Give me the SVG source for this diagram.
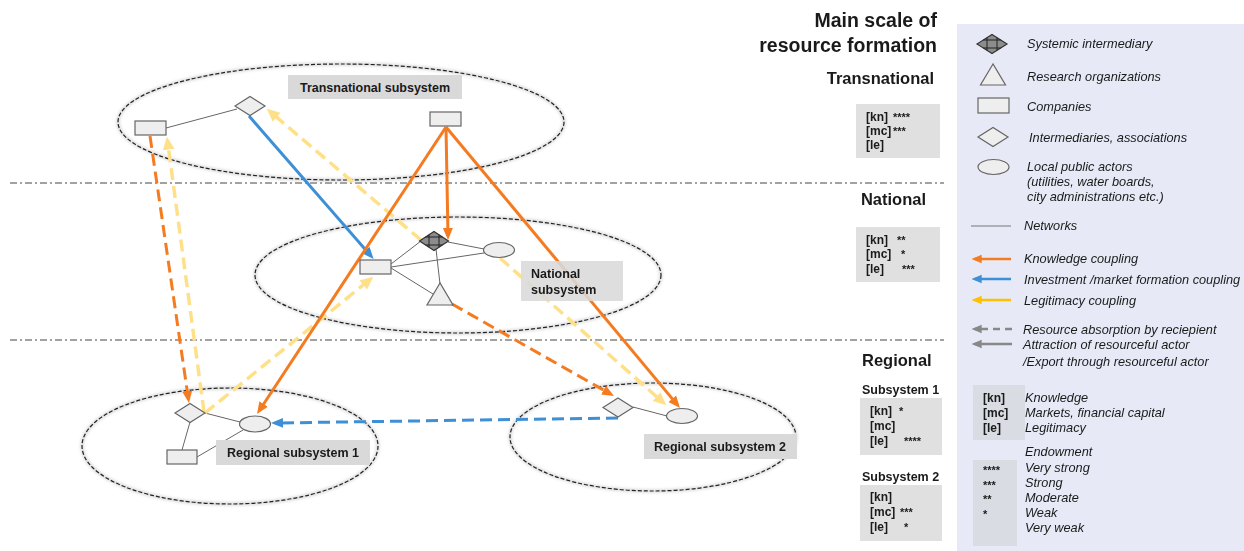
<svg xmlns="http://www.w3.org/2000/svg" width="1244" height="551" viewBox="0 0 1244 551">
  <defs>
    <style>
      text { font-family: "Liberation Sans", Arial, sans-serif; fill: #1a1a1a; }
      .scale { font-weight: bold; }
      .lbl { font-weight: bold; font-size: 12.5px; }
      .bx { font-weight: bold; font-size: 12px; }
      .star { font-weight: bold; font-size: 11px; }
      .it { font-style: italic; font-size: 12.75px; }
      .sub { fill: none; stroke: #222; stroke-width: 1.2; stroke-dasharray: 4 2; }
      .subshadow { fill: none; stroke: #bbb; stroke-width: 3; opacity: 0.6; }
      .level { stroke: #444; stroke-width: 1; stroke-dasharray: 7 3 2 3; fill: none; }
      .actor { fill: #eeeeee; stroke: #666; stroke-width: 1.2; }
      .net { stroke: #666; stroke-width: 1; fill: none; }
      .tag { fill: #d9d9d9; }
      .know { stroke: #f47b20; stroke-width: 3; fill: none; }
      .inv { stroke: #3d8fd6; stroke-width: 3; fill: none; }
      .leg { stroke: #ffe08a; stroke-width: 3.5; fill: none; }
      .dash { stroke-dasharray: 12 6; }
    </style>
    <filter id="soft" x="-10%" y="-20%" width="120%" height="140%">
      <feGaussianBlur stdDeviation="1.5"/>
    </filter>
    <marker id="ahO" viewBox="0 0 12 12" markerUnits="userSpaceOnUse" markerWidth="12" markerHeight="12" refX="8" refY="6" orient="auto">
      <path d="M0,1 L12,6 L0,11 z" fill="#f47b20"/>
    </marker>
    <marker id="ahB" viewBox="0 0 12 12" markerUnits="userSpaceOnUse" markerWidth="12" markerHeight="12" refX="8" refY="6" orient="auto">
      <path d="M0,1 L12,6 L0,11 z" fill="#3d8fd6"/>
    </marker>
    <marker id="ahY" viewBox="0 0 12 12" markerUnits="userSpaceOnUse" markerWidth="13" markerHeight="13" refX="8" refY="6" orient="auto">
      <path d="M0,0.5 L12,6 L0,11.5 z" fill="#ffe08a"/>
    </marker>
    <marker id="ahG" viewBox="0 0 12 12" markerUnits="userSpaceOnUse" markerWidth="10" markerHeight="10" refX="8" refY="6" orient="auto">
      <path d="M0,1 L12,6 L0,11 z" fill="#888"/>
    </marker>
    <marker id="ahLO" viewBox="0 0 12 12" markerUnits="userSpaceOnUse" markerWidth="10" markerHeight="10" refX="8" refY="6" orient="auto">
      <path d="M0,1 L12,6 L0,11 z" fill="#f47b20"/>
    </marker>
    <marker id="ahLB" viewBox="0 0 12 12" markerUnits="userSpaceOnUse" markerWidth="10" markerHeight="10" refX="8" refY="6" orient="auto">
      <path d="M0,1 L12,6 L0,11 z" fill="#3d8fd6"/>
    </marker>
    <marker id="ahLY" viewBox="0 0 12 12" markerUnits="userSpaceOnUse" markerWidth="10" markerHeight="10" refX="8" refY="6" orient="auto">
      <path d="M0,1 L12,6 L0,11 z" fill="#ffc000"/>
    </marker>
  </defs>

  <rect width="1244" height="551" fill="#ffffff"/>

  <!-- level separators -->
  <g id="levels">
    <line class="level" x1="10" y1="183" x2="944" y2="183"/>
    <line class="level" x1="10" y1="340" x2="944" y2="340"/>
  </g>

  <!-- subsystem boundaries -->
  <g id="subsystems">
    <g filter="url(#soft)">
      <ellipse class="subshadow" cx="341" cy="122" rx="223" ry="58"/>
      <ellipse class="subshadow" cx="458" cy="275" rx="203" ry="58"/>
      <ellipse class="subshadow" cx="230" cy="446" rx="148" ry="58"/>
      <ellipse class="subshadow" cx="653" cy="437" rx="143" ry="54"/>
    </g>
    <ellipse class="sub" cx="341" cy="122" rx="223" ry="58"/>
    <ellipse class="sub" cx="458" cy="275" rx="203" ry="58"/>
    <ellipse class="sub" cx="230" cy="446" rx="148" ry="58"/>
    <ellipse class="sub" cx="653" cy="437" rx="143" ry="54"/>
  </g>

  <!-- network ties inside subsystems -->
  <g id="networks">
    <line class="net" x1="166" y1="128" x2="237" y2="109"/>
    <line class="net" x1="391" y1="264" x2="421" y2="241"/>
    <line class="net" x1="391" y1="267" x2="484" y2="253"/>
    <line class="net" x1="391" y1="268" x2="433" y2="294"/>
    <line class="net" x1="436" y1="249" x2="440" y2="284"/>
    <line class="net" x1="448" y1="242" x2="484" y2="249"/>
    <line class="net" x1="205" y1="413" x2="240" y2="422"/>
    <line class="net" x1="190" y1="422" x2="182" y2="450"/>
    <line class="net" x1="197" y1="457" x2="243" y2="430"/>
    <line class="net" x1="633" y1="407" x2="667" y2="416"/>
  </g>

  <!-- resource couplings -->
  <g id="connectors">
    <line class="leg dash" x1="421" y1="240" x2="270" y2="111.6" marker-end="url(#ahY)"/>
    <line class="leg dash" x1="500" y1="258" x2="663" y2="402.4" marker-end="url(#ahY)"/>
    <line class="leg dash" x1="204" y1="412" x2="167.5" y2="141" marker-end="url(#ahY)"/>
    <line class="leg dash" x1="205" y1="413" x2="370" y2="279.5" marker-end="url(#ahY)"/>
    <line class="know dash" x1="150" y1="136" x2="188.4" y2="399" marker-end="url(#ahO)"/>
    <line class="know dash" x1="452" y1="304" x2="610.5" y2="394" marker-end="url(#ahO)"/>
    <line class="inv" x1="249" y1="116" x2="371" y2="256" marker-end="url(#ahB)"/>
    <line class="inv dash" x1="618" y1="418" x2="275" y2="423" marker-end="url(#ahB)"/>
    <line class="know" x1="446" y1="127" x2="448" y2="236" marker-end="url(#ahO)"/>
    <line class="know" x1="446" y1="127" x2="259.2" y2="410.7" marker-end="url(#ahO)"/>
    <line class="know" x1="446" y1="127" x2="677.4" y2="404.9" marker-end="url(#ahO)"/>
  </g>

  <!-- transnational actors -->
  <g id="trans-company-1"><rect class="actor" x="135" y="121" width="31" height="14"/></g>
  <g id="trans-intermediary"><polygon class="actor" points="235,106 250,96.5 265,106 250,115.5"/></g>
  <g id="trans-company-2"><rect class="actor" x="430" y="112" width="31" height="14"/></g>

  <!-- national actors -->
  <g id="nat-systemic">
    <polygon points="419.5,241 434,231.5 448.5,241 434,250.5" fill="#8c8c8c" stroke="#333" stroke-width="1.2"/>
    <g stroke="#222" stroke-width="1">
      <line x1="429" y1="234.8" x2="429" y2="247.2"/>
      <line x1="439" y1="234.8" x2="439" y2="247.2"/>
      <line x1="425.6" y1="237" x2="442.4" y2="237"/>
      <line x1="425.6" y1="245" x2="442.4" y2="245"/>
    </g>
  </g>
  <g id="nat-public"><ellipse class="actor" cx="499" cy="250" rx="15.5" ry="7.5"/></g>
  <g id="nat-company"><rect class="actor" x="360" y="260" width="31" height="14"/></g>
  <g id="nat-research"><polygon class="actor" points="440,283 427,305 453,305"/></g>

  <!-- regional subsystem 1 actors -->
  <g id="reg1-intermediary"><polygon class="actor" points="175,413 190,403.5 205,413 190,422.5"/></g>
  <g id="reg1-public"><ellipse class="actor" cx="255" cy="424" rx="15.5" ry="8"/></g>
  <g id="reg1-company"><rect class="actor" x="167" y="450" width="30" height="14"/></g>

  <!-- regional subsystem 2 actors -->
  <g id="reg2-intermediary"><polygon class="actor" points="603,407.5 618,398 633,407.5 618,417"/></g>
  <g id="reg2-public"><ellipse class="actor" cx="682" cy="416" rx="15.5" ry="7.5"/></g>

  <!-- subsystem names -->
  <g id="label-trans">
    <rect class="tag" x="288" y="75" width="174" height="24"/>
    <text class="lbl" x="375" y="92" text-anchor="middle">Transnational subsystem</text>
  </g>
  <g id="label-nat">
    <rect class="tag" x="521" y="261" width="102" height="40" opacity="0.88"/>
    <text class="lbl" x="531" y="278">National</text>
    <text class="lbl" x="531" y="294">subsystem</text>
  </g>
  <g id="label-reg1">
    <rect class="tag" x="216" y="440" width="154" height="25"/>
    <text class="lbl" x="227" y="457">Regional subsystem 1</text>
  </g>
  <g id="label-reg2">
    <rect class="tag" x="644" y="434" width="153" height="25"/>
    <text class="lbl" x="654" y="451">Regional subsystem 2</text>
  </g>

  <!-- main scale column -->
  <g id="scale-column">
    <text class="scale" x="937" y="27" text-anchor="end" font-size="19.5">Main scale of</text>
    <text class="scale" x="937" y="52" text-anchor="end" font-size="19.5">resource formation</text>
    <text class="scale" x="934" y="84" text-anchor="end" font-size="16.5">Transnational</text>
    <text class="scale" x="926" y="205" text-anchor="end" font-size="16.5">National</text>
    <text class="scale" x="862" y="366" font-size="16.5">Regional</text>
    <text class="scale" x="862" y="394" font-size="12.5">Subsystem 1</text>
    <text class="scale" x="862" y="481" font-size="12.5">Subsystem 2</text>
  </g>

  <g id="endow-trans">
    <rect fill="#e0e0e0" x="856" y="104" width="84" height="54"/>
    <text class="bx" x="866" y="121">[kn]</text><text class="star" x="893" y="121">****</text>
    <text class="bx" x="866" y="135">[mc]</text><text class="star" x="893" y="135">***</text>
    <text class="bx" x="866" y="149">[le]</text>
  </g>
  <g id="endow-nat">
    <rect fill="#e0e0e0" x="856" y="227" width="84" height="55"/>
    <text class="bx" x="866" y="244">[kn]</text><text class="star" x="897" y="244">**</text>
    <text class="bx" x="866" y="258">[mc]</text><text class="star" x="901" y="258">*</text>
    <text class="bx" x="866" y="273">[le]</text><text class="star" x="902" y="273">***</text>
  </g>
  <g id="endow-reg1">
    <rect fill="#e0e0e0" x="860" y="398" width="82" height="57"/>
    <text class="bx" x="870" y="415">[kn]</text><text class="star" x="899" y="415">*</text>
    <text class="bx" x="870" y="430">[mc]</text>
    <text class="bx" x="870" y="445">[le]</text><text class="star" x="904" y="445">****</text>
  </g>
  <g id="endow-reg2">
    <rect fill="#e0e0e0" x="860" y="485" width="82" height="56"/>
    <text class="bx" x="870" y="501">[kn]</text>
    <text class="bx" x="870" y="516">[mc]</text><text class="star" x="900" y="516">***</text>
    <text class="bx" x="870" y="531">[le]</text><text class="star" x="904" y="531">*</text>
  </g>

  <!-- legend -->
  <g id="legend">
    <rect x="957" y="24" width="287" height="527" fill="#e7eaf6"/>
    <polygon points="977,44 992,34.5 1007,44 992,53.5" fill="#8c8c8c" stroke="#333" stroke-width="1.2"/>
    <g stroke="#222" stroke-width="1">
      <line x1="987" y1="37.7" x2="987" y2="50.3"/>
      <line x1="997" y1="37.7" x2="997" y2="50.3"/>
      <line x1="983.3" y1="40" x2="1000.7" y2="40"/>
      <line x1="983.3" y1="48" x2="1000.7" y2="48"/>
    </g>
    <text class="it" x="1027" y="48">Systemic intermediary</text>
    <polygon class="actor" points="993,64 980.5,85 1005.5,85"/>
    <text class="it" x="1027" y="81">Research organizations</text>
    <rect class="actor" x="978" y="98" width="31" height="15"/>
    <text class="it" x="1027" y="111">Companies</text>
    <polygon class="actor" points="978,137 993,127.5 1008,137 993,146.5"/>
    <text class="it" x="1029" y="142">Intermediaries, associations</text>
    <ellipse class="actor" cx="993.5" cy="167" rx="15.5" ry="7.5"/>
    <text class="it" x="1027" y="171">Local public actors</text>
    <text class="it" x="1027" y="186">(utilities, water boards,</text>
    <text class="it" x="1027" y="201">city administrations etc.)</text>

    <line x1="971" y1="226" x2="1011" y2="226" stroke="#777" stroke-width="1"/>
    <text class="it" x="1024" y="230">Networks</text>
    <line x1="1011" y1="259" x2="975" y2="259" stroke="#f47b20" stroke-width="2.5" marker-end="url(#ahLO)"/>
    <text class="it" x="1024" y="263">Knowledge coupling</text>
    <line x1="1011" y1="279" x2="975" y2="279" stroke="#3d8fd6" stroke-width="2.5" marker-end="url(#ahLB)"/>
    <text class="it" x="1024" y="284">Investment /market formation coupling</text>
    <line x1="1011" y1="300" x2="975" y2="300" stroke="#ffc000" stroke-width="2.5" marker-end="url(#ahLY)"/>
    <text class="it" x="1024" y="305">Legitimacy coupling</text>
    <line x1="1012" y1="329" x2="975" y2="329" stroke="#888" stroke-width="2.5" stroke-dasharray="7 5" marker-end="url(#ahG)"/>
    <text class="it" x="1023" y="334">Resource absorption by reciepient</text>
    <line x1="1012" y1="344" x2="975" y2="344" stroke="#888" stroke-width="2.5" marker-end="url(#ahG)"/>
    <text class="it" x="1023" y="349">Attraction of resourceful actor</text>
    <text class="it" x="1023" y="366">/Export through resourceful actor</text>

    <rect x="973" y="385" width="52" height="55" fill="#dadce3"/>
    <text class="bx" x="983" y="402" font-size="12.5">[kn]</text>
    <text class="bx" x="983" y="417" font-size="12.5">[mc]</text>
    <text class="bx" x="983" y="432" font-size="12.5">[le]</text>
    <text class="it" x="1025" y="402">Knowledge</text>
    <text class="it" x="1025" y="417">Markets, financial capital</text>
    <text class="it" x="1025" y="432">Legitimacy</text>

    <text class="it" x="1025" y="456">Endowment</text>
    <rect x="973" y="460" width="44" height="86" fill="#dadce3"/>
    <text class="star" x="983" y="474" font-size="10">****</text>
    <text class="star" x="983" y="489" font-size="10">***</text>
    <text class="star" x="983" y="503" font-size="10">**</text>
    <text class="star" x="983" y="518" font-size="10">*</text>
    <text class="it" x="1025" y="472">Very strong</text>
    <text class="it" x="1025" y="487">Strong</text>
    <text class="it" x="1025" y="502">Moderate</text>
    <text class="it" x="1025" y="517">Weak</text>
    <text class="it" x="1025" y="532">Very weak</text>
  </g>
</svg>
